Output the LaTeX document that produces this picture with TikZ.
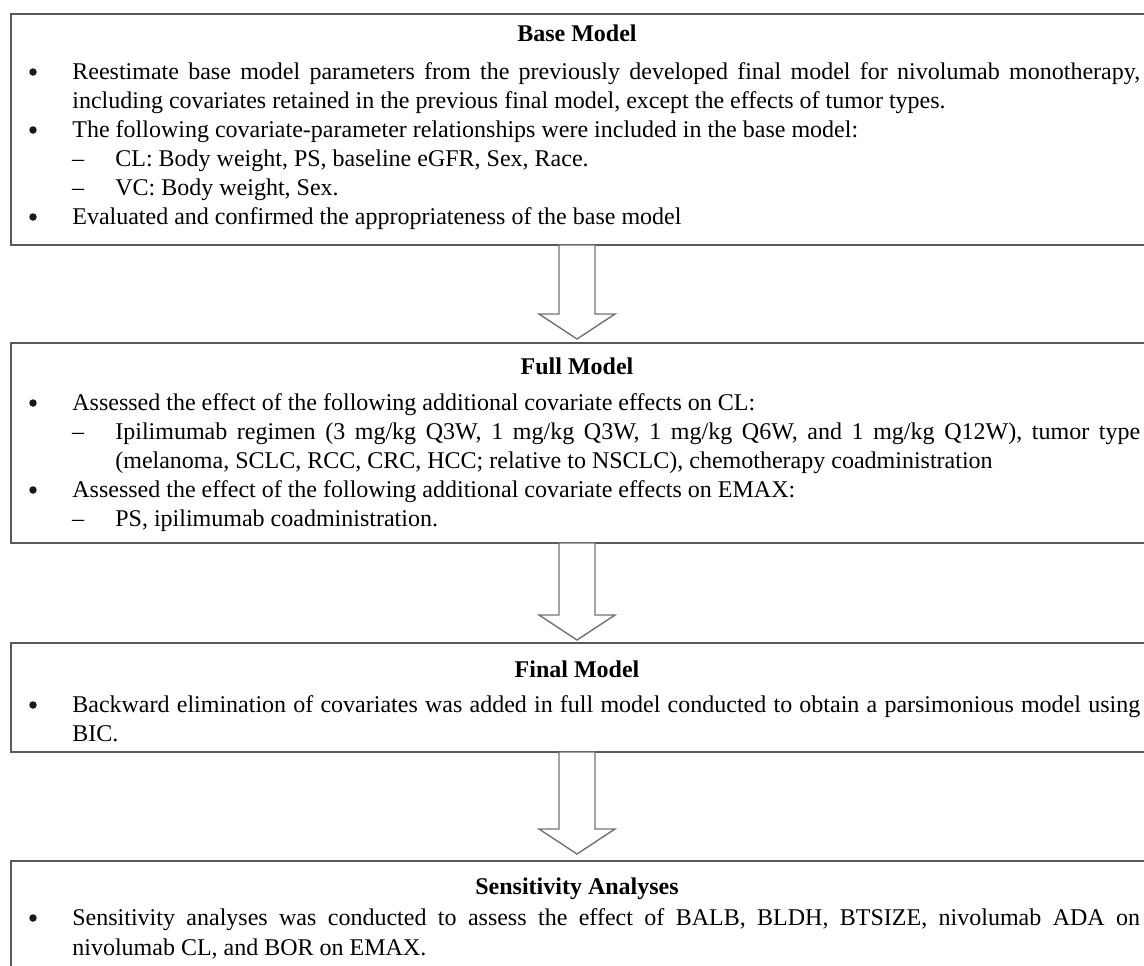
\documentclass[tikz,border=0pt]{standalone}
\usepackage{fontspec}
\setmainfont{Liberation Serif}
\usetikzlibrary{calc}

\tikzset{
 panel/.style={draw=black!65, line width=1.1pt},
 bigarrow/.style={draw=black!55, line width=0.8pt, fill=white, line join=miter},
 ttl/.style={anchor=base, inner sep=0pt, font=\bfseries},
 ln/.style={anchor=base west, inner sep=0pt},
 mk/.style={anchor=base, inner sep=0pt},
 dot/.style={circle, fill=black!90, inner sep=0pt, minimum size=0.15cm},
}
\newcommand{\fullline}[1]{\makebox[21.36cm][s]{#1}}
\newcommand{\subline}[1]{\makebox[20.5cm][s]{#1}}

\begin{document}
\fontsize{13.66}{16.5}\selectfont
\begin{tikzpicture}[x=0.02cm, y=-0.02cm]
 \clip (0,0) rectangle (1144,965);
 % base model
 \draw[panel] (11,14) rectangle (1150,245);
 \node[ttl] (base-t) at (577,41) {Base Model};
 \node[dot] (base-m1) at (33,72) {};
 \node[ln] (base-1) at (72,79) {\fullline{Reestimate base model parameters from the previously developed final model for nivolumab monotherapy,}};
 \node[ln] (base-2) at (72,108) {including covariates retained in the previous final model, except the effects of tumor types.};
 \node[dot] (base-m2) at (33,130) {};
 \node[ln] (base-3) at (72,137) {The following covariate-parameter relationships were included in the base model:};
 \node[mk] (base-m3) at (78,166) {–};
 \node[ln] (base-4) at (115,166) {CL: Body weight, PS, baseline eGFR, Sex, Race.};
 \node[mk] (base-m4) at (78,195) {–};
 \node[ln] (base-5) at (115,195) {VC: Body weight, Sex.};
 \node[dot] (base-m5) at (33,217) {};
 \node[ln] (base-6) at (72,224) {Evaluated and confirmed the appropriateness of the base model};
 % full model
 \draw[panel] (11,343) rectangle (1150,543);
 \node[ttl] (full-t) at (577,374) {Full Model};
 \node[dot] (full-m1) at (33,403) {};
 \node[ln] (full-1) at (72,410) {Assessed the effect of the following additional covariate effects on CL:};
 \node[mk] (full-m2) at (78,439) {–};
 \node[ln] (full-2) at (115,439) {\subline{Ipilimumab regimen (3 mg/kg Q3W, 1 mg/kg Q3W, 1 mg/kg Q6W, and 1 mg/kg Q12W), tumor type}};
 \node[ln] (full-3) at (115,468) {(melanoma, SCLC, RCC, CRC, HCC; relative to NSCLC), chemotherapy coadministration};
 \node[dot] (full-m3) at (33,490) {};
 \node[ln] (full-4) at (72,497) {Assessed the effect of the following additional covariate effects on EMAX:};
 \node[mk] (full-m4) at (78,526) {–};
 \node[ln] (full-5) at (115,526) {PS, ipilimumab coadministration.};
 % final model
 \draw[panel] (11,643) rectangle (1150,752);
 \node[ttl] (final-t) at (577,677) {Final Model};
 \node[dot] (final-m1) at (33,705) {};
 \node[ln] (final-1) at (72,712) {\fullline{Backward elimination of covariates was added in full model conducted to obtain a parsimonious model using}};
 \node[ln] (final-2) at (72,741) {BIC.};
 % sensitivity
 \draw[panel] (11,861) rectangle (1150,1000);
 \node[ttl] (sens-t) at (577,894) {Sensitivity Analyses};
 \node[dot] (sens-m1) at (33,918) {};
 \node[ln] (sens-1) at (72,925) {\fullline{Sensitivity analyses was conducted to assess the effect of BALB, BLDH, BTSIZE, nivolumab ADA on}};
 \node[ln] (sens-2) at (72,955) {nivolumab CL, and BOR on EMAX.};
 % block arrows
 \coordinate (base-s) at (577,245);  \coordinate (full-n) at (577,339);
 \coordinate (full-s) at (577,543);  \coordinate (final-n) at (577,640);
 \coordinate (final-s) at (577,752); \coordinate (sens-n) at (577,854);
 \foreach \a/\b in {base-s/full-n, full-s/final-n, final-s/sens-n}
  \draw[bigarrow] ($(\a)+(-18,0)$) -- ($(\b)+(-18,-25)$) -- ($(\b)+(-38,-25)$) -- (\b)
   -- ($(\b)+(38,-25)$) -- ($(\b)+(18,-25)$) -- ($(\a)+(18,0)$) -- cycle;
\end{tikzpicture}
\end{document}
